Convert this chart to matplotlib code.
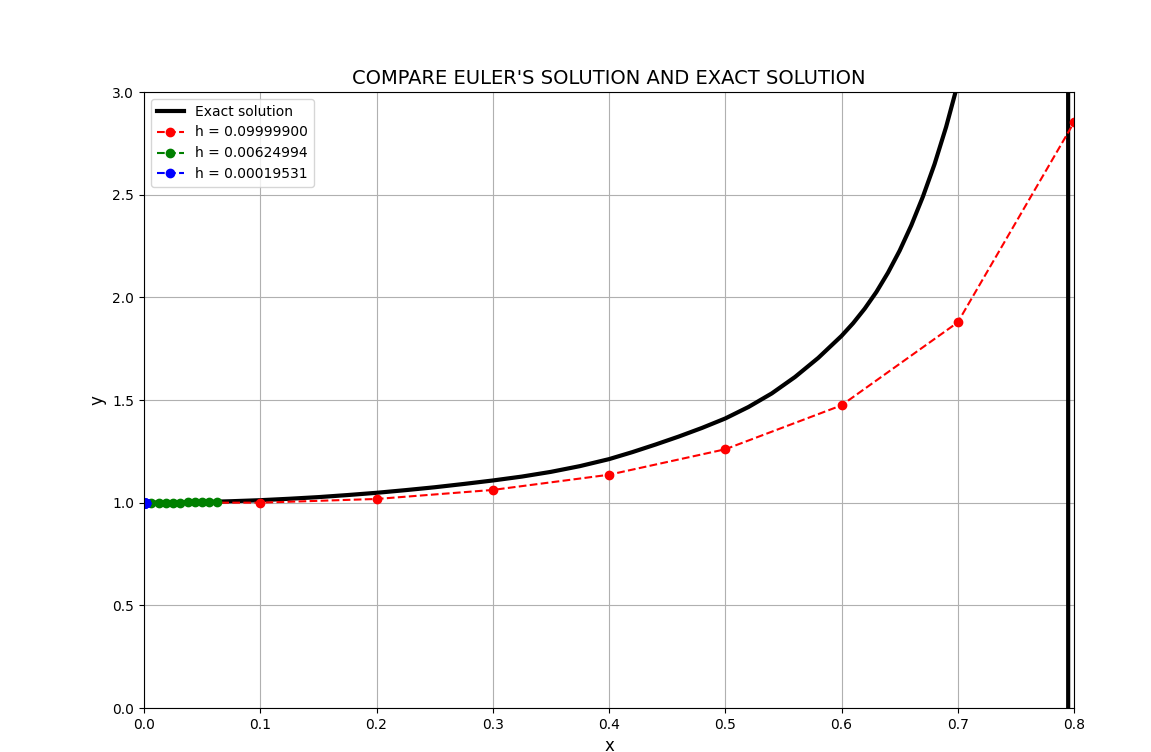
import matplotlib
matplotlib.use('Agg')
import matplotlib.pyplot as plt
import numpy as np

# exact solution, values
x_exact = [0.0, 0.025, 0.05, 0.075, 0.1, 0.125, 0.15, 0.175, 0.2, 0.225,
           0.25, 0.275, 0.3, 0.325, 0.35, 0.375, 0.4, 0.42, 0.44, 0.46, 0.48,
           0.5, 0.52, 0.54, 0.56, 0.58, 0.6, 0.61, 0.62, 0.63, 0.64, 0.65,
           0.66, 0.67, 0.68, 0.69, 0.70, 0.72, 0.74, 0.76, 0.78, 0.79,
           0.794, 0.796, 0.80]
y_exact = [1.0, 1.001, 1.003, 1.007, 1.012, 1.019, 1.027, 1.037, 1.048, 1.061,
           1.075, 1.091, 1.108, 1.127, 1.150, 1.178, 1.212, 1.246, 1.283,
           1.322, 1.364, 1.410, 1.466, 1.532, 1.612, 1.705, 1.812, 1.874,
           1.945, 2.026, 2.12, 2.227, 2.35, 2.49, 2.648, 2.83, 3.04, 3.6, 4.6,
           6.5, 12.0, 25.0, 80.0, -80.0, -20.0]

# Euler, h = 0.099999
x_h1 = [0.0, 0.1, 0.2, 0.3, 0.4, 0.5, 0.6, 0.7, 0.8]
y_h1 = [1.0, 1.0, 1.018, 1.062, 1.136, 1.26, 1.474, 1.878, 2.852]

# Euler, h = 0.00624994
x_h2 = [0.0, 0.00625, 0.0125, 0.01875, 0.025, 0.03125, 0.0375, 0.04375,
        0.05, 0.05625, 0.0625]
y_h2 = [1.0, 1.0, 1.0001, 1.0002, 1.0005, 1.0008, 1.0012, 1.0016, 1.0021,
        1.0027, 1.0034]

# Euler, h = 0.00019531
x_h3 = [0.0, 0.0002, 0.0004, 0.0006, 0.0008, 0.001, 0.0012, 0.0014, 0.0016,
        0.0018, 0.002]
y_h3 = [1.0] * 11

labels = ['Exact solution', 'h = 0.09999900', 'h = 0.00624994', 'h = 0.00019531']

fig = plt.figure(figsize=(11.51, 7.52), dpi=100)
ax = fig.add_axes([144 / 1151, 1 - 708 / 752, 930 / 1151, 616 / 752])

ax.plot(x_exact, y_exact, color='black', linewidth=3, label=labels[0])
ax.plot(x_h1, y_h1, 'ro--', label=labels[1])
ax.plot(x_h2, y_h2, 'go--', label=labels[2])
ax.plot(x_h3, y_h3, 'bo--', label=labels[3])

ax.set_xlim(0, 0.8)
ax.set_ylim(0, 3)
ax.set_xticks(np.arange(0, 0.81, 0.1))
ax.set_yticks(np.arange(0, 3.01, 0.5))
ax.grid(True)
ax.legend(loc='upper left')
ax.set_title("COMPARE EULER'S SOLUTION AND EXACT SOLUTION", fontsize=14)
ax.set_xlabel('x', fontsize=12)
ax.set_ylabel('y', fontsize=12)

fig.savefig('out.png', dpi=100)
